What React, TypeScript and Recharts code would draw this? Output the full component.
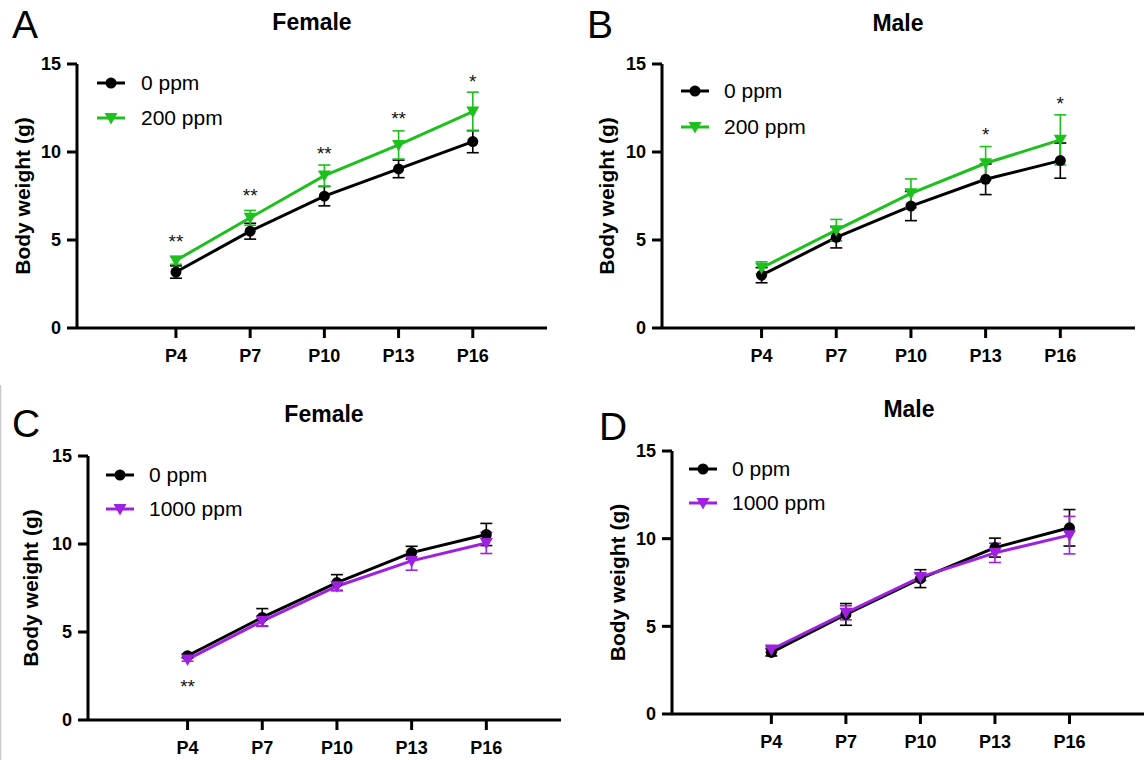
import { ComposedChart, Line, Scatter, XAxis, YAxis, ErrorBar, Legend } from 'recharts';

const DAYS = [4, 7, 10, 13, 16];
const DAY_LABELS = ['P4', 'P7', 'P10', 'P13', 'P16'];
const Y_TICKS = [0, 5, 10, 15];

const BLACK = '#000000';
const GREEN = '#1EC01E';
const PURPLE = '#A020E0';
const FONT = '"Liberation Sans", Arial, Helvetica, sans-serif';

// A: female, 0 vs 200 ppm
const A_CTRL = [3.18, 5.5, 7.49, 9.04, 10.59];
const A_CTRL_SD = [0.35, 0.45, 0.55, 0.5, 0.63];
const A_DOSE = [3.84, 6.26, 8.66, 10.4, 12.3];
const A_DOSE_SD = [0.22, 0.42, 0.6, 0.8, 1.1];
const A_MARKS = ['**', '**', '**', '**', '*'];
const A_MARK_Y = [5.13, 7.75, 10.14, 12.1, 14.2];

// B: male, 0 vs 200 ppm
const B_CTRL = [3.0, 5.15, 6.93, 8.45, 9.51];
const B_CTRL_SD = [0.43, 0.6, 0.83, 0.87, 1.0];
const B_DOSE = [3.42, 5.56, 7.65, 9.36, 10.69];
const B_DOSE_SD = [0.34, 0.61, 0.82, 0.95, 1.42];
const B_MARKS = ['', '', '', '*', '*'];
const B_MARK_Y = [0, 0, 0, 11.22, 12.93];

// C: female, 0 vs 1000 ppm
const C_CTRL = [3.65, 5.83, 7.81, 9.51, 10.54];
const C_CTRL_SD = [0.1, 0.5, 0.45, 0.36, 0.63];
const C_DOSE = [3.44, 5.62, 7.6, 9.04, 10.06];
const C_DOSE_SD = [0.1, 0.3, 0.25, 0.53, 0.6];
const C_MARKS = ['**', '', '', '', ''];
const C_MARK_Y = [2.08, 0, 0, 0, 0];

// D: male, 0 vs 1000 ppm
const D_CTRL = [3.51, 5.68, 7.72, 9.49, 10.62];
const D_CTRL_SD = [0.2, 0.62, 0.51, 0.54, 1.04];
const D_DOSE = [3.68, 5.77, 7.81, 9.19, 10.2];
const D_DOSE_SD = [0.15, 0.4, 0.2, 0.55, 1.07];
const D_MARKS = ['', '', '', '', ''];
const D_MARK_Y = [0, 0, 0, 0, 0];

const rows = (vals: number[], sds: number[]) => DAYS.map((d, i) => ({ day: d, w: vals[i], sd: sds[i] }));
const markRows = (marks: string[], ys: number[]) =>
  DAYS.map((d, i) => ({ day: d, w: ys[i], mark: marks[i] })).filter((r) => r.mark);

const PANELS = [
  {
    letter: 'A', title: 'Female', left: 0, top: 0, width: 560, height: 380,
    margin: { top: 64, right: 13, bottom: 12, left: 0 }, yAxisWidth: 77, xAxisHeight: 40, labelOffset: 23,
    ctrl: rows(A_CTRL, A_CTRL_SD), dose: rows(A_DOSE, A_DOSE_SD), doseName: '200 ppm', doseColor: GREEN,
    marks: markRows(A_MARKS, A_MARK_Y), legend: { symCx: 111, rows: [83, 118], textX: 141 },
  },
  {
    letter: 'B', title: 'Male', left: 570, top: 0, width: 578, height: 380,
    margin: { top: 64, right: 13, bottom: 12, left: 0 }, yAxisWidth: 92, xAxisHeight: 40, labelOffset: 37,
    ctrl: rows(B_CTRL, B_CTRL_SD), dose: rows(B_DOSE, B_DOSE_SD), doseName: '200 ppm', doseColor: GREEN,
    marks: markRows(B_MARKS, B_MARK_Y), legend: { symCx: 125, rows: [91, 127], textX: 154 },
  },
  {
    letter: 'C', title: 'Female', left: 0, top: 390, width: 570, height: 370,
    margin: { top: 66, right: 9, bottom: 2, left: 0 }, yAxisWidth: 88, xAxisHeight: 38, labelOffset: 31,
    ctrl: rows(C_CTRL, C_CTRL_SD), dose: rows(C_DOSE, C_DOSE_SD), doseName: '1000 ppm', doseColor: PURPLE,
    marks: markRows(C_MARKS, C_MARK_Y), legend: { symCx: 120, rows: [85, 119], textX: 149 },
  },
  {
    letter: 'D', title: 'Male', left: 570, top: 390, width: 578, height: 370,
    margin: { top: 61, right: 4, bottom: 8, left: 0 }, yAxisWidth: 102, xAxisHeight: 38, labelOffset: 48,
    ctrl: rows(D_CTRL, D_CTRL_SD), dose: rows(D_DOSE, D_DOSE_SD), doseName: '1000 ppm', doseColor: PURPLE,
    marks: markRows(D_MARKS, D_MARK_Y), legend: { symCx: 133, rows: [79, 113], textX: 162 },
  },
];

// letter / title positions (page coords, baseline)
const HEADINGS = [
  { letter: 'A', lx: 12, ly: 38, title: 'Female', tx: 312, ty: 30 },
  { letter: 'B', lx: 587, ly: 38, title: 'Male', tx: 898, ty: 31 },
  { letter: 'C', lx: 12, ly: 437, title: 'Female', tx: 324, ty: 422 },
  { letter: 'D', lx: 599, ly: 440, title: 'Male', tx: 909, ty: 417 },
];

function Marker({ cx, cy, color, shape }: { cx: number; cy: number; color: string; shape: 'circle' | 'tri' }) {
  if (shape === 'circle') return <circle cx={cx} cy={cy} r={5.5} fill={color} />;
  return <polygon points={`${cx - 6.5},${cy - 5} ${cx + 6.5},${cy - 5} ${cx},${cy + 6.5}`} fill={color} />;
}

function LegendBox({ items, symCx, rowsY, textX }: any) {
  return (
    <svg width={textX + 140} height={rowsY[1] + 20} style={{ display: 'block' }}>
      {items.map((it: any, i: number) => (
        <g key={it.name}>
          <line x1={symCx - 14} x2={symCx + 14} y1={rowsY[i]} y2={rowsY[i]} stroke={it.color} strokeWidth={3} />
          <Marker cx={symCx} cy={rowsY[i]} color={it.color} shape={it.shape} />
          <text x={textX} y={rowsY[i] + 7} fontSize={21} fill="#000" fontFamily={FONT}>
            {it.name}
          </text>
        </g>
      ))}
    </svg>
  );
}

function Panel({ p }: { p: (typeof PANELS)[number] }) {
  const items = [
    { name: '0 ppm', color: BLACK, shape: 'circle' },
    { name: p.doseName, color: p.doseColor, shape: 'tri' },
  ];
  const axisStyle = { stroke: '#000', strokeWidth: 3 };
  const tickStyle = { fill: '#000', fontSize: 18, fontWeight: 700 };
  return (
    <div style={{ position: 'absolute', left: p.left, top: p.top }}>
      <ComposedChart width={p.width} height={p.height} margin={p.margin}>
        <XAxis
          type="number"
          dataKey="day"
          domain={[0, 19]}
          ticks={DAYS}
          interval={0}
          tickFormatter={(d: number) => DAY_LABELS[DAYS.indexOf(d)]}
          height={p.xAxisHeight}
          axisLine={axisStyle}
          tickLine={axisStyle}
          tickSize={10}
          tickMargin={11}
          tick={tickStyle}
        />
        <YAxis
          type="number"
          domain={[0, 15]}
          ticks={Y_TICKS}
          interval={0}
          width={p.yAxisWidth}
          axisLine={axisStyle}
          tickLine={axisStyle}
          tickSize={10}
          tickMargin={6}
          tick={tickStyle}
          label={{
            value: 'Body weight (g)',
            angle: -90,
            position: 'insideLeft',
            offset: p.labelOffset,
            style: { textAnchor: 'middle', fontSize: 21, fontWeight: 700, fill: '#000' },
          }}
        />
        <Legend
          layout="horizontal"
          verticalAlign="middle"
          align="center"
          wrapperStyle={{ left: 0, top: 0, width: p.legend.textX + 140, height: p.legend.rows[1] + 20 }}
          content={() => <LegendBox items={items} symCx={p.legend.symCx} rowsY={p.legend.rows} textX={p.legend.textX} />}
        />
        <Line
          data={p.ctrl}
          dataKey="w"
          name="0 ppm"
          stroke={BLACK}
          strokeWidth={3}
          isAnimationActive={false}
          dot={(d: any) => (
            <g key={`c-${d.index}`}>
              <Marker cx={d.cx} cy={d.cy} color={BLACK} shape="circle" />
            </g>
          )}
          activeDot={false}
        >
          <ErrorBar dataKey="sd" direction="y" width={6} stroke={BLACK} strokeWidth={1.6} isAnimationActive={false} />
        </Line>
        <Line
          data={p.dose}
          dataKey="w"
          name={p.doseName}
          stroke={p.doseColor}
          strokeWidth={3}
          isAnimationActive={false}
          dot={(d: any) => (
            <g key={`t-${d.index}`}>
              <Marker cx={d.cx} cy={d.cy} color={p.doseColor} shape="tri" />
            </g>
          )}
          activeDot={false}
        >
          <ErrorBar dataKey="sd" direction="y" width={6} stroke={p.doseColor} strokeWidth={1.6} isAnimationActive={false} />
        </Line>
        <Scatter
          data={p.marks}
          dataKey="w"
          legendType="none"
          isAnimationActive={false}
          shape={(s: any) => (
            <text x={s.cx} y={s.cy + 10} textAnchor="middle" fontSize={19} fill="#111" fontFamily={FONT}>
              {s.payload.mark}
            </text>
          )}
        />
      </ComposedChart>
    </div>
  );
}

export default function App() {
  return (
    <div
      style={{
        position: 'absolute',
        left: 0,
        top: 0,
        width: 1148,
        height: 760,
        background: '#fff',
        fontFamily: FONT,
        overflow: 'hidden',
      }}
    >
      {PANELS.map((p) => (
        <Panel key={p.letter} p={p} />
      ))}
      <svg width={1148} height={760} style={{ position: 'absolute', left: 0, top: 0, pointerEvents: 'none' }}>
        <line x1={0.5} x2={0.5} y1={385} y2={760} stroke="#c8c8c8" strokeWidth={1.5} />
        {HEADINGS.map((h) => (
          <g key={h.letter}>
            <text x={h.lx} y={h.ly} fontSize={39} fill="#000" fontFamily={FONT}>
              {h.letter}
            </text>
            <text x={h.tx} y={h.ty} fontSize={23} fontWeight={700} textAnchor="middle" fill="#000" fontFamily={FONT}>
              {h.title}
            </text>
          </g>
        ))}
      </svg>
    </div>
  );
}
